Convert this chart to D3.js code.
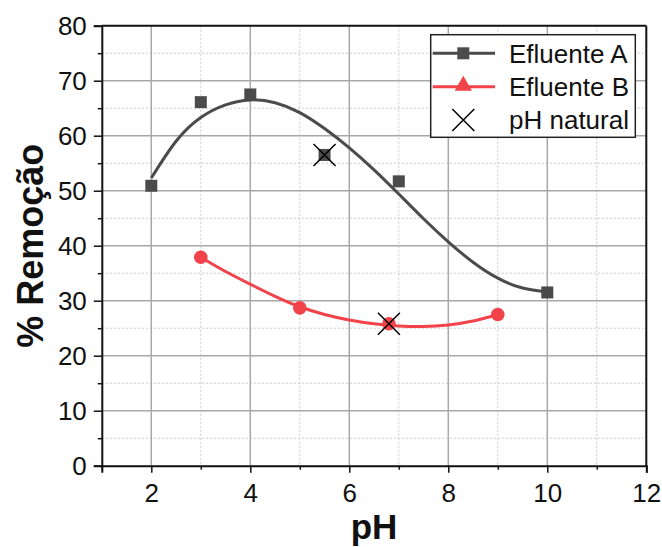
<!DOCTYPE html>
<html><head><meta charset="utf-8">
<script src="https://cdn.jsdelivr.net/npm/d3@7"></script>
<style>body{margin:0;background:#fff}svg{display:block;font-family:Arial,"Liberation Sans",sans-serif}</style>
</head><body><svg id="c" width="662" height="547"></svg>
<script>
// Data
const pointsAx = [2, 3, 4, 7, 10];
const pointsAy = [50.9, 66.1, 67.5, 51.7, 31.5];
const pointsBx = [3, 5, 9];
const pointsBy = [37.9, 28.7, 27.5];
const naturalAx = 5.5, naturalAy = 56.5;
const naturalBx = 6.8, naturalBy = 25.8;
const fitAx = [2, 2.5, 3, 3.5, 4, 4.5, 5, 5.5, 6, 6.5, 7, 7.5, 8, 8.5, 9, 9.5, 10];
const fitAy = [52.3, 59.0, 63.3, 65.6, 66.5, 66.0, 64.2, 61.3, 57.8, 53.8, 49.4, 44.9, 40.7, 37.0, 34.1, 32.3, 31.6];
const fitBx = [3, 3.5, 4, 4.5, 5, 5.5, 6, 6.5, 7, 7.5, 8, 8.5, 9];
const fitBy = [37.9, 35.3, 33.0, 30.8, 28.9, 27.5, 26.5, 25.8, 25.4, 25.3, 25.6, 26.3, 27.5];
const xTicks = [2, 4, 6, 8, 10, 12];
const yTicks = [0, 10, 20, 30, 40, 50, 60, 70, 80];
const legendLabels = ["Efluente A", "Efluente B", "pH natural"];

const colA = "#4b4b4b", colB = "#f2434a";
const L = 101.8, R = 646.3, T = 25.7, B = 465.7;
const svg = d3.select("#c");
const x = d3.scaleLinear().domain([1, 12]).range([L, R]);
const y = d3.scaleLinear().domain([0, 80]).range([B, T]);

// grid
const g = svg.append("g");
const minorX = d3.range(3, 12, 2);
const minorY = d3.range(5, 80, 10);
g.selectAll(".mx").data(minorX).join("line")
  .attr("x1", d => x(d)).attr("x2", d => x(d)).attr("y1", T).attr("y2", B)
  .attr("stroke", "#c8c8c8").attr("stroke-width", 1).attr("stroke-dasharray", "2,2");
g.selectAll(".my").data(minorY).join("line")
  .attr("y1", d => y(d)).attr("y2", d => y(d)).attr("x1", L).attr("x2", R)
  .attr("stroke", "#c8c8c8").attr("stroke-width", 1).attr("stroke-dasharray", "2,2");
g.selectAll(".Mx").data(xTicks.filter(v => v < 12)).join("line")
  .attr("x1", d => x(d)).attr("x2", d => x(d)).attr("y1", T).attr("y2", B)
  .attr("stroke", "#a8a8a8").attr("stroke-width", 1.5);
g.selectAll(".My").data(yTicks.filter(v => v > 0 && v < 80)).join("line")
  .attr("y1", d => y(d)).attr("y2", d => y(d)).attr("x1", L).attr("x2", R)
  .attr("stroke", "#a8a8a8").attr("stroke-width", 1.5);

// frame top/right
svg.append("line").attr("x1", L).attr("x2", R).attr("y1", T).attr("y2", T).attr("stroke", "#111").attr("stroke-width", 2);
svg.append("line").attr("x1", R).attr("x2", R).attr("y1", T).attr("y2", B).attr("stroke", "#111").attr("stroke-width", 2);

// axes
const xAxis = svg.append("g").attr("transform", `translate(0,${B})`)
  .call(d3.axisBottom(x).tickValues(xTicks).tickSize(7).tickPadding(11).tickFormat(d3.format("d")));
const xMinor = svg.append("g").attr("transform", `translate(0,${B})`)
  .call(d3.axisBottom(x).tickValues(d3.range(1, 12, 2)).tickSize(4).tickFormat(""));
const yAxis = svg.append("g").attr("transform", `translate(${L},0)`)
  .call(d3.axisLeft(y).tickValues(yTicks).tickSize(8).tickPadding(7));
const yMinor = svg.append("g").attr("transform", `translate(${L},0)`)
  .call(d3.axisLeft(y).tickValues(minorY).tickSize(4).tickFormat(""));
[xAxis, xMinor, yAxis, yMinor].forEach(a => {
  a.select(".domain").attr("stroke", "#111").attr("stroke-width", 2);
  a.selectAll(".tick line").attr("stroke", "#111").attr("stroke-width", 1.5);
  a.selectAll("text").attr("font-size", 26).attr("fill", "#111").attr("font-family", "Arial, 'Liberation Sans', sans-serif");
});
xMinor.select(".domain").remove(); yMinor.select(".domain").remove();

// fitted curves
const line = d3.line().x(d => x(d[0])).y(d => y(d[1])).curve(d3.curveNatural);
svg.append("path").datum(d3.zip(fitAx, fitAy)).attr("d", line)
  .attr("fill", "none").attr("stroke", colA).attr("stroke-width", 3);
svg.append("path").datum(d3.zip(fitBx, fitBy)).attr("d", line)
  .attr("fill", "none").attr("stroke", colB).attr("stroke-width", 3);

// points
const sq = 12;
svg.selectAll(".pa").data(d3.zip(pointsAx.concat([naturalAx]), pointsAy.concat([naturalAy]))).join("rect")
  .attr("x", d => x(d[0]) - sq / 2).attr("y", d => y(d[1]) - sq / 2)
  .attr("width", sq).attr("height", sq).attr("fill", colA);
svg.selectAll(".pb").data(d3.zip(pointsBx.concat([naturalBx]), pointsBy.concat([naturalBy]))).join("circle")
  .attr("cx", d => x(d[0])).attr("cy", d => y(d[1])).attr("r", 6.8).attr("fill", colB);

// natural pH crosses
const cross = (cx, cy, s) => `M${cx - s},${cy - s}L${cx + s},${cy + s}M${cx - s},${cy + s}L${cx + s},${cy - s}`;
svg.selectAll(".nx").data([[naturalAx, naturalAy], [naturalBx, naturalBy]]).join("path")
  .attr("d", d => cross(x(d[0]), y(d[1]), 11)).attr("stroke", "#000").attr("stroke-width", 1.5).attr("fill", "none");

// legend
const lg = svg.append("g");
lg.append("rect").attr("x", 430.7).attr("y", 34.7).attr("width", 204.6).attr("height", 102.6)
  .attr("fill", "#fff").attr("stroke", "#222").attr("stroke-width", 1.5);
const rows = [53.3, 86.7, 120];
[colA, colB].forEach((c, i) => {
  lg.append("line").attr("x1", 432.7).attr("x2", 495).attr("y1", rows[i]).attr("y2", rows[i])
    .attr("stroke", c).attr("stroke-width", 3);
});
lg.append("rect").attr("x", 463.3 - 6).attr("y", rows[0] - 6).attr("width", 12).attr("height", 12).attr("fill", colA);
lg.append("path").attr("d", d3.symbol(d3.symbolTriangle, 130)()).attr("transform", `translate(463.3,${rows[1] - 1})`).attr("fill", colB);
lg.append("path").attr("d", cross(463.3, rows[2], 11)).attr("stroke", "#000").attr("stroke-width", 1.5);
lg.selectAll(".lt").data(legendLabels).join("text")
  .attr("x", 509).attr("y", (d, i) => rows[i]).attr("dy", "0.36em")
  .attr("font-size", 26).attr("fill", "#111").text(d => d);

// axis titles
svg.append("text").attr("x", x(6.5)).attr("y", 539).attr("text-anchor", "middle")
  .attr("font-size", 35).attr("font-weight", "bold").attr("fill", "#111").text("pH");
svg.append("text").attr("transform", `translate(43,${(T + B) / 2}) rotate(-90)`).attr("text-anchor", "middle")
  .attr("font-size", 36).attr("font-weight", "bold").attr("fill", "#111").text("% Remoção");
</script></body></html>
